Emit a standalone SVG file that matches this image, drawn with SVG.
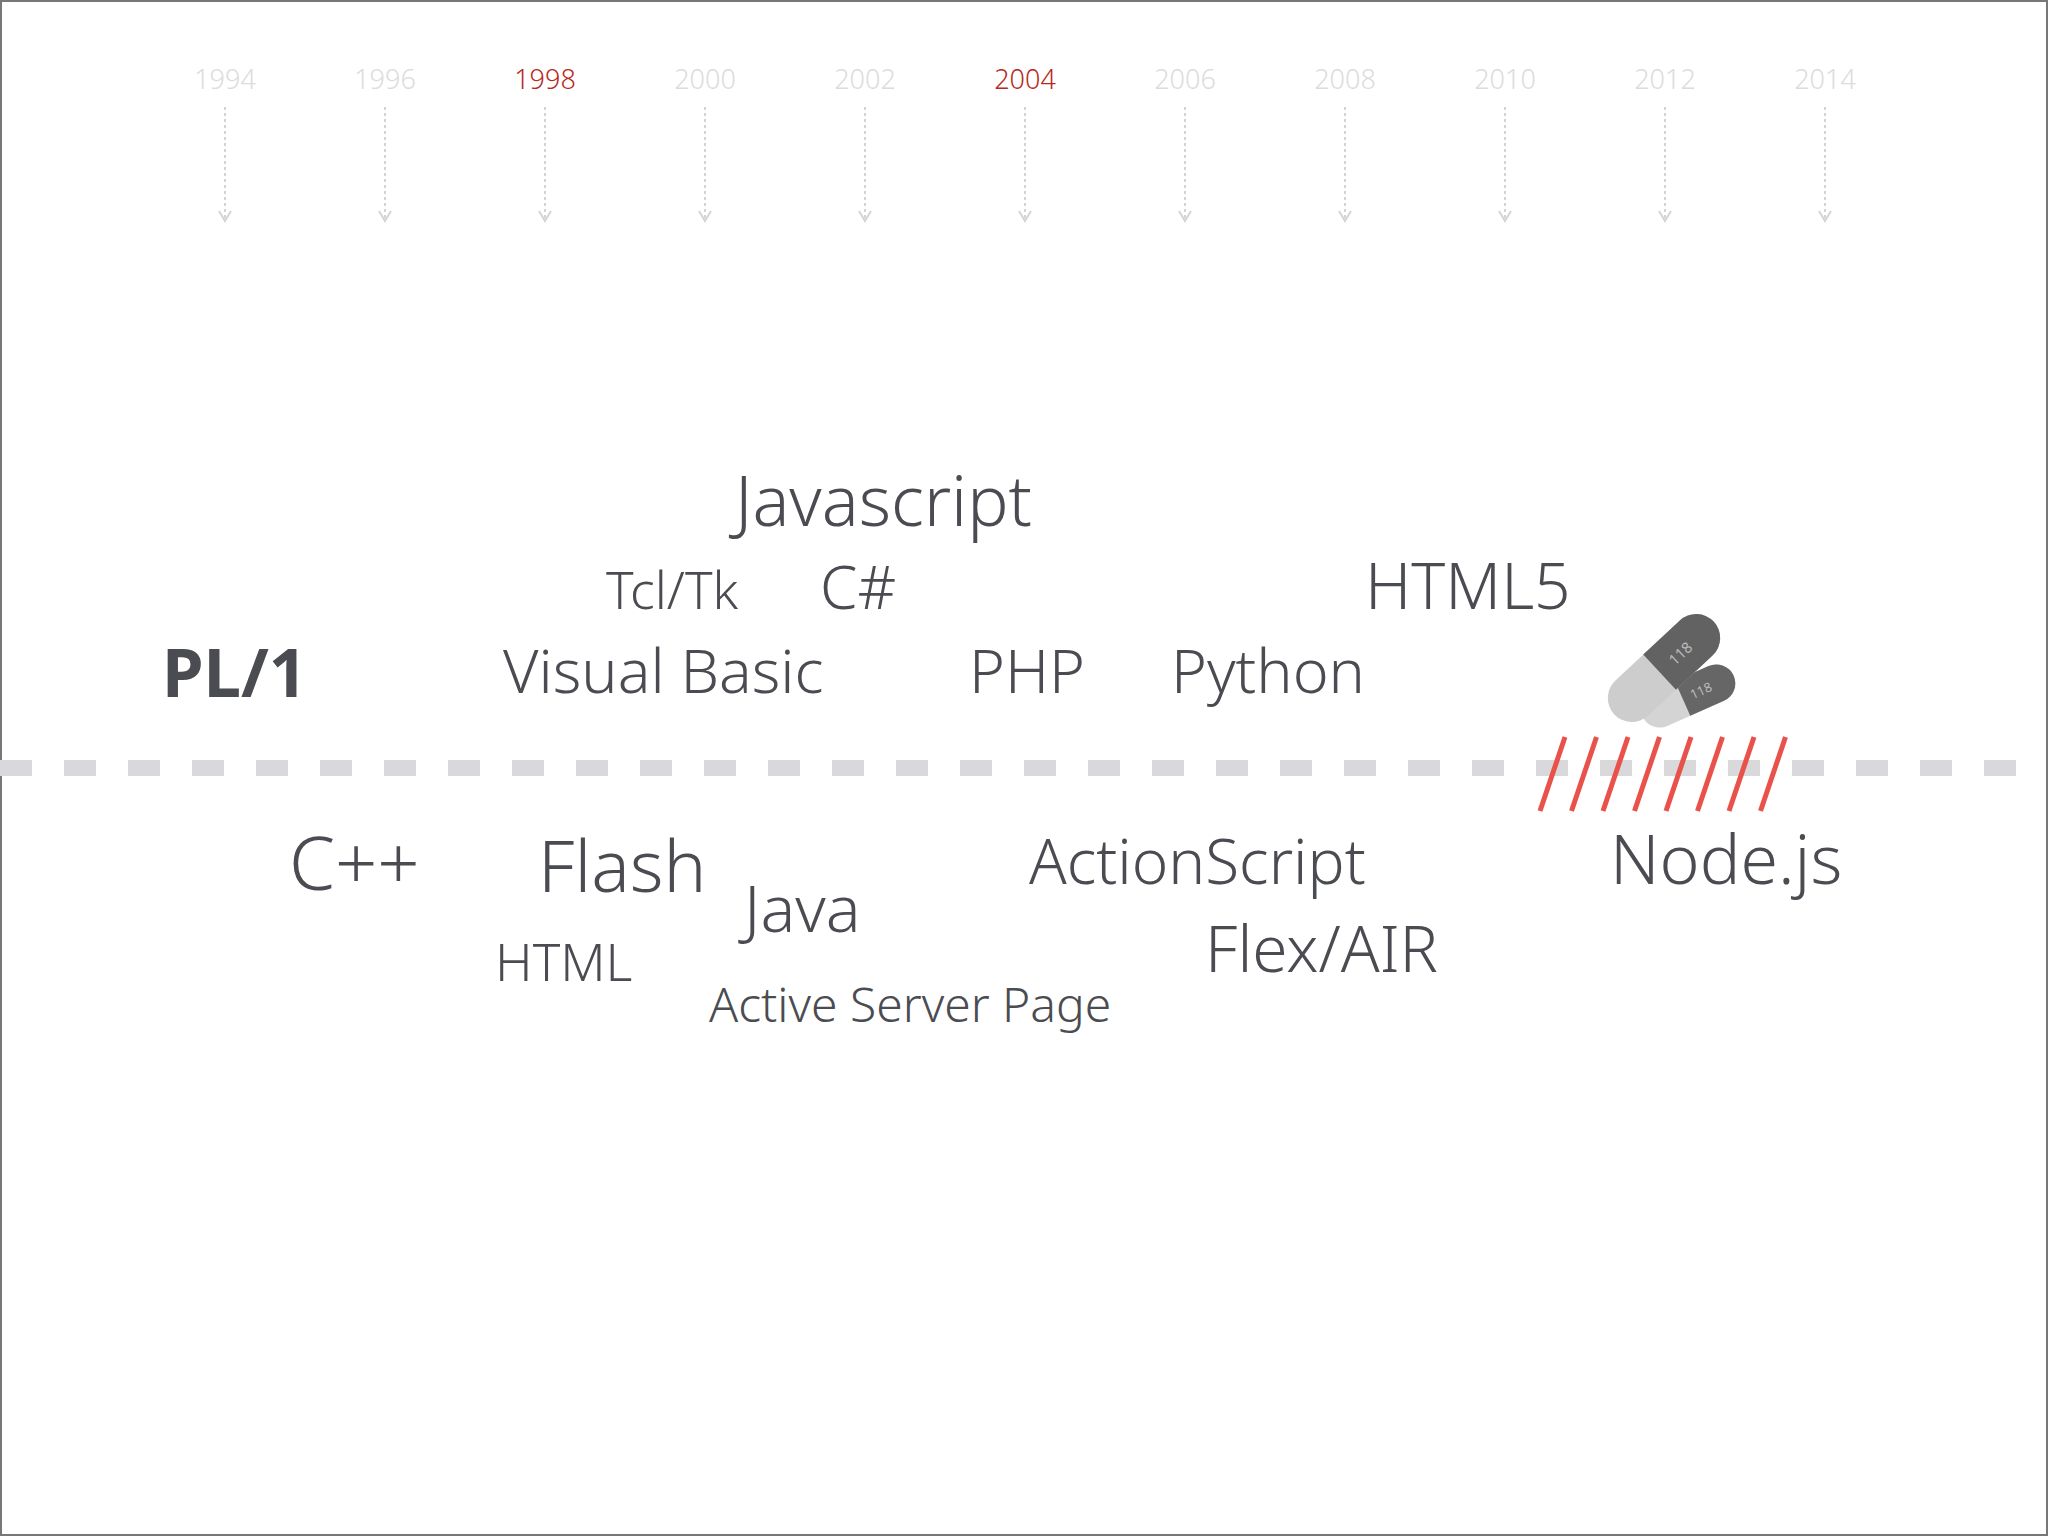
<svg xmlns="http://www.w3.org/2000/svg" width="2048" height="1536" viewBox="0 0 2048 1536">
<style>
.yr{font-family:"Noto Sans","Open Sans",sans-serif;font-size:27px;fill:#dcdcdc;text-anchor:middle;font-weight:300}
.hl{fill:#b8281c}
.t{font-family:"Noto Sans","Open Sans",sans-serif;fill:#4b4c52;font-weight:300}
.ar{stroke:#d4d4d4;stroke-width:2;stroke-dasharray:3 3;fill:none}
.ah{stroke:#d4d4d4;stroke-width:2;fill:none}
.sl{stroke:#e8524a;stroke-width:5}
</style>
<rect x="1" y="1" width="2046" height="1534" fill="#fff" stroke="#777" stroke-width="2"/>
<g id="years">
<text class="yr" x="225" y="89">1994</text>
<text class="yr" x="385" y="89">1996</text>
<text class="yr hl" x="545" y="89">1998</text>
<text class="yr" x="705" y="89">2000</text>
<text class="yr" x="865" y="89">2002</text>
<text class="yr hl" x="1025" y="89">2004</text>
<text class="yr" x="1185" y="89">2006</text>
<text class="yr" x="1345" y="89">2008</text>
<text class="yr" x="1505" y="89">2010</text>
<text class="yr" x="1665" y="89">2012</text>
<text class="yr" x="1825" y="89">2014</text>
</g>
<g id="connectors">
<g id="arrows">
<path class="ar" d="M225 107V220M385 107V220M545 107V220M705 107V220M865 107V220M1025 107V220M1185 107V220M1345 107V220M1505 107V220M1665 107V220M1825 107V220"/>
<path class="ah" d="M219 211l6 10 6-10M379 211l6 10 6-10M539 211l6 10 6-10M699 211l6 10 6-10M859 211l6 10 6-10M1019 211l6 10 6-10M1179 211l6 10 6-10M1339 211l6 10 6-10M1499 211l6 10 6-10M1659 211l6 10 6-10M1819 211l6 10 6-10"/>
</g>
<line x1="0" y1="768" x2="2048" y2="768" stroke="#d9d9db" stroke-width="16" stroke-dasharray="32 32"/>
<g id="slashes">
<line class="sl" x1="1565" y1="737" x2="1540" y2="811"/>
<line class="sl" x1="1596.5" y1="737" x2="1571.5" y2="811"/>
<line class="sl" x1="1628" y1="737" x2="1603" y2="811"/>
<line class="sl" x1="1659.5" y1="737" x2="1634.5" y2="811"/>
<line class="sl" x1="1691" y1="737" x2="1666" y2="811"/>
<line class="sl" x1="1722.5" y1="737" x2="1697.5" y2="811"/>
<line class="sl" x1="1754" y1="737" x2="1729" y2="811"/>
<line class="sl" x1="1785.5" y1="737" x2="1760.5" y2="811"/>
</g>
</g>
<g id="pills">
<g transform="translate(1688 696) rotate(-24)">
<rect x="-50" y="-19" width="100" height="38" rx="19" fill="#d4d4d4"/>
<path d="M-6 -19H31a19 19 0 0 1 0 38H-6Z" fill="#666"/>
<text x="14" y="5" font-family="Noto Sans,sans-serif" font-size="13" fill="#bbb" text-anchor="middle">118</text>
</g>
<g transform="translate(1664 668) rotate(-43)">
<rect x="-68" y="-24" width="136" height="48" rx="24" fill="#cdcdcd"/>
<path d="M-6 -24H44a24 24 0 0 1 0 48H-6Z" fill="#626262"/>
<text x="22" y="6" font-family="Noto Sans,sans-serif" font-size="15" fill="#bbb" text-anchor="middle">118</text>
</g>
</g>
<g id="n-javascript"><text class="t" x="735" y="526" font-size="69">Javascript</text></g>
<g id="n-tcltk"><text class="t" x="606" y="609" font-size="52">Tcl/Tk</text></g>
<g id="n-csharp"><text class="t" x="820" y="609" font-size="60">C#</text></g>
<g id="n-html5"><text class="t" x="1365" y="609" font-size="64">HTML5</text></g>
<g id="n-pl1"><text class="t" x="162" y="697" font-size="67" style="font-weight:700">PL/1</text></g>
<g id="n-vb"><text class="t" x="503" y="693" font-size="61">Visual Basic</text></g>
<g id="n-php"><text class="t" x="969" y="693" font-size="61">PHP</text></g>
<g id="n-python"><text class="t" x="1171" y="693" font-size="61">Python</text></g>
<g id="n-cpp"><text class="t" x="289" y="890" font-size="74">C++</text></g>
<g id="n-flash"><text class="t" x="538" y="892" font-size="72">Flash</text></g>
<g id="n-java"><text class="t" x="744" y="932" font-size="65">Java</text></g>
<g id="n-as"><text class="t" x="1029" y="884" font-size="62">ActionScript</text></g>
<g id="n-node"><text class="t" x="1610" y="884" font-size="68">Node.js</text></g>
<g id="n-html"><text class="t" x="495" y="981" font-size="52">HTML</text></g>
<g id="n-flex"><text class="t" x="1205" y="972" font-size="64">Flex/AIR</text></g>
<g id="n-asp"><text class="t" x="709" y="1022" font-size="48">Active Server Page</text></g>
</svg>
